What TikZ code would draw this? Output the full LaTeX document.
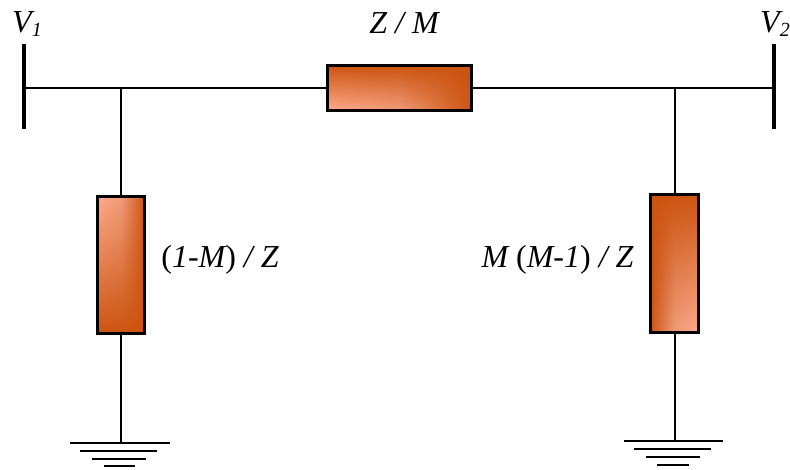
\documentclass[tikz,border=0pt]{standalone}
\usepackage{fontspec}
\setmainfont{Liberation Serif}
\usetikzlibrary{fadings}
\definecolor{resdark}{HTML}{CC5410}
\definecolor{reslight}{HTML}{FFAA8C}
\definecolor{resmid}{HTML}{F09C7A}
\tikzfading[name=fadetop, top color=transparent!100, middle color=transparent!92, bottom color=transparent!0]
\tikzfading[name=fadebot, bottom color=transparent!100, middle color=transparent!92, top color=transparent!0]
\tikzset{
  wire/.style={line width=2pt, black},
  busbar/.style={draw=none, fill=black, inner sep=0pt, minimum width=4pt, minimum height=85.5pt},
  resbox/.style={draw=black, line width=3pt, inner sep=0pt, outer sep=0pt},
  lightleft/.style={left color=reslight, right color=resdark, middle color=resmid},
  lightright/.style={left color=resdark, right color=reslight, middle color=resmid},
  lbl/.style={font=\fontsize{32}{32}\selectfont\itshape, inner sep=0pt, anchor=base},
  gnd/.style={line width=2pt, black}
}
\newcommand{\subsc}[1]{\raisebox{-4pt}{\fontsize{20}{20}\selectfont #1}}
\begin{document}
\begin{tikzpicture}[x=1pt,y=-1pt]
\useasboundingbox (0,0) rectangle (790,470);
% bus bars
\node[busbar] (v1bar) at (23.7,86.5) {};
\node[busbar] (v2bar) at (773.7,86.5) {};
% resistors
\node[resbox, minimum width=144pt, minimum height=45pt,
  preaction={lightleft}, preaction={fill=resdark, path fading=fadebot}] (zm) at (399.5,88) {};
\node[resbox, minimum width=47.6pt, minimum height=137pt,
  preaction={lightleft}, preaction={fill=resdark, path fading=fadetop}] (rl) at (121,265.5) {};
\node[resbox, minimum width=48pt, minimum height=137.5pt,
  preaction={lightright}, preaction={fill=resdark, path fading=fadebot}] (rr) at (674.5,263.7) {};
% junctions and ground ends
\coordinate (tl) at (rl.north |- zm.west);
\coordinate (tr) at (rr.north |- zm.east);
\coordinate (gl) at (121,443.3);
\coordinate (gr) at (674.5,441.3);
% wires
\draw[wire] (v1bar.center |- zm.west) -- (zm.west);
\draw[wire] (zm.east) -- (v2bar.center |- zm.east);
\draw[wire] (tl) -- (rl.north);
\draw[wire] (rl.south) -- (gl);
\draw[wire] (tr) -- (rr.north);
\draw[wire] (rr.south) -- (gr);
% grounds
\draw[gnd] (70,443.3) -- (gl) -- (169.5,443.3);
\draw[gnd] (80,451) -- (157,451);
\draw[gnd] (92,458.7) -- (146,458.7);
\draw[gnd] (104,466) -- (135,466);
\draw[gnd] (623.5,441.3) -- (gr) -- (723,441.3);
\draw[gnd] (634,449) -- (711,449);
\draw[gnd] (646,457) -- (700,457);
\draw[gnd] (657,464.5) -- (689,464.5);
% labels
\node[lbl] (lv1) at (27,33) {V\subsc{1}};
\node[lbl] (lv2) at (775,33) {V\subsc{2}};
\node[lbl] (lz) at (404,34) {Z / M};
\node[lbl] (ll) at (220,268) {{\upshape (}1-M{\upshape )} / Z};
\node[lbl] (lr) at (557.5,268) {M {\upshape (}M-1{\upshape )} / Z};
\end{tikzpicture}
\end{document}
